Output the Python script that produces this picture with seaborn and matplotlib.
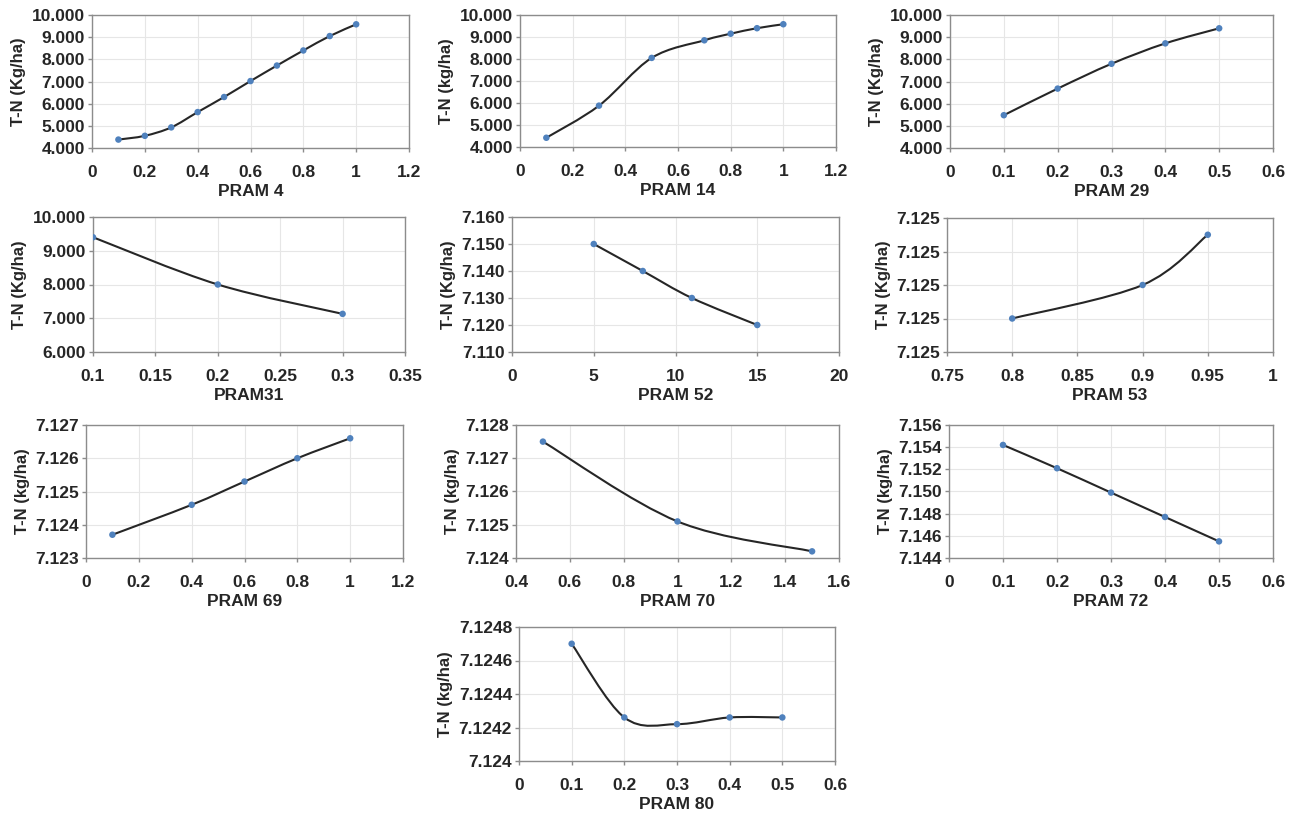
import numpy as np
import pandas as pd
import seaborn as sns
import matplotlib
matplotlib.use("Agg")
import matplotlib.pyplot as plt
from matplotlib.path import Path
from matplotlib.patches import PathPatch
from matplotlib.ticker import FuncFormatter, MultipleLocator

# %% data (T-N values, thousands shown as "x.000")
pram4_x = [0.1, 0.2, 0.3, 0.4, 0.5, 0.6, 0.7, 0.8, 0.9, 1.0]
pram4_y = [4.38, 4.55, 4.93, 5.62, 6.30, 7.02, 7.72, 8.40, 9.05, 9.58]

pram14_x = [0.1, 0.3, 0.5, 0.7, 0.8, 0.9, 1.0]
pram14_y = [4.42, 5.88, 8.05, 8.85, 9.15, 9.40, 9.58]

pram29_x = [0.1, 0.2, 0.3, 0.4, 0.5]
pram29_y = [5.48, 6.68, 7.80, 8.72, 9.40]

pram31_x = [0.1, 0.2, 0.3]
pram31_y = [9.40, 8.00, 7.13]

pram52_x = [5, 8, 11, 15]
pram52_y = [7.150, 7.140, 7.130, 7.120]

pram53_x = [0.8, 0.9, 0.95]
pram53_y = [7.1248, 7.1250, 7.1253]

pram69_x = [0.1, 0.4, 0.6, 0.8, 1.0]
pram69_y = [7.1237, 7.1246, 7.1253, 7.1260, 7.1266]

pram70_x = [0.5, 1.0, 1.5]
pram70_y = [7.1275, 7.1251, 7.1242]

pram72_x = [0.1, 0.2, 0.3, 0.4, 0.5]
pram72_y = [7.1542, 7.1521, 7.1499, 7.1477, 7.1455]

pram80_x = [0.1, 0.2, 0.3, 0.4, 0.5]
pram80_y = [7.1247, 7.12426, 7.12422, 7.12426, 7.12426]

# %% panel setup: (x, y, xlabel, ylabel, xlim, xstep, ylim, ystep, ydecimals, box px l,t,r,b)
panels = [
    (pram4_x, pram4_y, "PRAM 4", "T-N (Kg/ha)", (0, 1.2), 0.2, (4, 10), 1, 3, (92, 15, 409, 148)),
    (pram14_x, pram14_y, "PRAM 14", "T-N (kg/ha)", (0, 1.2), 0.2, (4, 10), 1, 3, (520, 15, 836, 147)),
    (pram29_x, pram29_y, "PRAM 29", "T-N (Kg/ha)", (0, 0.6), 0.1, (4, 10), 1, 3, (950, 15, 1273, 148)),
    (pram31_x, pram31_y, "PRAM31", "T-N (Kg/ha)", (0.1, 0.35), 0.05, (6, 10), 1, 3, (93, 217, 405, 352)),
    (pram52_x, pram52_y, "PRAM 52", "T-N (Kg/ha)", (0, 20), 5, (7.11, 7.16), 0.01, 3, (512, 217, 839, 352)),
    (pram53_x, pram53_y, "PRAM 53", "T-N (Kg/ha)", (0.75, 1.0), 0.05, (7.1246, 7.1254), 0.0002, 3, (947, 218, 1273, 352)),
    (pram69_x, pram69_y, "PRAM 69", "T-N (kg/ha)", (0, 1.2), 0.2, (7.123, 7.127), 0.001, 3, (86, 425, 403, 558)),
    (pram70_x, pram70_y, "PRAM 70", "T-N (kg/ha)", (0.4, 1.6), 0.2, (7.124, 7.128), 0.001, 3, (516, 425, 839, 558)),
    (pram72_x, pram72_y, "PRAM 72", "T-N (kg/ha)", (0, 0.6), 0.1, (7.144, 7.156), 0.002, 3, (949, 425, 1273, 558)),
    (pram80_x, pram80_y, "PRAM 80", "T-N (kg/ha)", (0, 0.6), 0.1, (7.124, 7.1248), 0.0002, -4, (519, 627, 835, 761)),
]

sns.set_style("whitegrid")
plt.rcParams["font.family"] = ["Liberation Sans", "DejaVu Sans"]
plt.rcParams["font.weight"] = "bold"
plt.rcParams["axes.labelweight"] = "bold"

W, H = 1297, 815
fig = plt.figure(figsize=(W / 100, H / 100), dpi=100)


def smooth_path(x, y):
    # excel-like smoothed line (catmull-rom as cubic bezier)
    pts = np.column_stack([x, y]).astype(float)
    n = len(pts)
    verts, codes = [pts[0]], [Path.MOVETO]
    for i in range(n - 1):
        p0, p1 = pts[max(i - 1, 0)], pts[i]
        p2, p3 = pts[i + 1], pts[min(i + 2, n - 1)]
        verts += [p1 + (p2 - p0) / 6, p2 - (p3 - p1) / 6, p2]
        codes += [Path.CURVE4] * 3
    return Path(verts, codes)


def x_fmt(v, pos):
    s = f"{round(v, 6):.2f}".rstrip("0").rstrip(".")
    return s


for x, y, xlab, ylab, xlim, xstep, ylim, ystep, ydec, (l, t, r, b) in panels:
    ax = fig.add_axes([l / W, 1 - b / H, (r - l) / W, (b - t) / H])
    df = pd.DataFrame({"x": x, "y": y})
    ax.add_patch(PathPatch(smooth_path(df.x, df.y), facecolor="none",
                           edgecolor="#262626", lw=1.5, zorder=3))
    sns.scatterplot(data=df, x="x", y="y", color="#4f81bd", s=22,
                    edgecolor="none", zorder=4, ax=ax)
    ax.set_xlim(*xlim)
    ax.set_ylim(*ylim)
    ax.xaxis.set_major_locator(MultipleLocator(xstep))
    ax.yaxis.set_major_locator(MultipleLocator(ystep))
    ax.xaxis.set_major_formatter(FuncFormatter(x_fmt))
    if ydec > 0:
        ax.yaxis.set_major_formatter(FuncFormatter(lambda v, p, d=ydec: f"{v:.{d}f}"))
    else:
        ax.yaxis.set_major_formatter(FuncFormatter(
            lambda v, p, d=-ydec: f"{v:.{d}f}".rstrip("0").rstrip(".")))
    ax.set_xlabel(xlab, fontsize=12.5, labelpad=3)
    ax.set_ylabel(ylab, fontsize=12, labelpad=4)
    ax.tick_params(axis="both", labelsize=12.5, length=3, width=1,
                   color="#8c8c8c", left=True, bottom=True)
    ax.tick_params(axis="x", pad=9)
    ax.tick_params(axis="y", pad=2)
    ax.grid(color="#e6e6e6", lw=0.8)
    for sp in ax.spines.values():
        sp.set_color("#8c8c8c")
        sp.set_linewidth(1)

fig.savefig("out.png", dpi=100)
